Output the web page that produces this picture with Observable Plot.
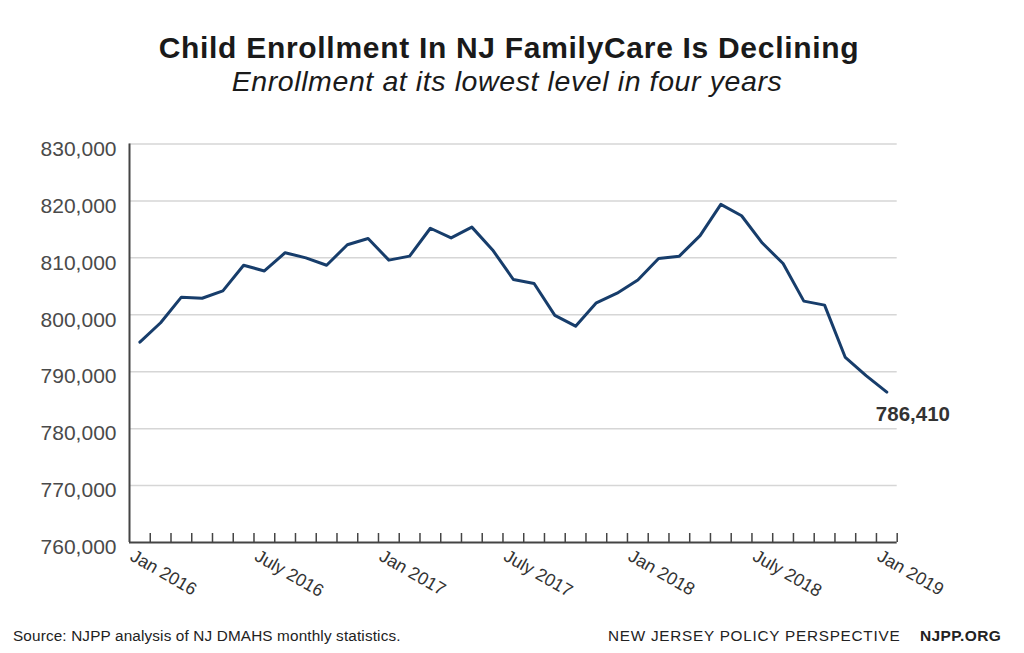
<!DOCTYPE html>
<html>
<head>
<meta charset="utf-8">
<script src="https://cdn.jsdelivr.net/npm/d3@7"></script>
<script src="https://cdn.jsdelivr.net/npm/@observablehq/plot@0.6"></script>
<style>
  html, body { margin: 0; padding: 0; background: #fff; }
  #page { position: relative; width: 1024px; height: 653px; overflow: hidden; background: #fff; font-family: "Liberation Sans", Arial, sans-serif; }
  .t { position: absolute; white-space: nowrap; }
  #title { top: 32.5px; left: -3px; width: 1024px; text-align: center; font-weight: bold; font-size: 30px; line-height: 30px; letter-spacing: 0.7px; color: #1a1a1a; }
  #subtitle { top: 67px; left: -5px; width: 1024px; text-align: center; font-style: italic; font-size: 28.5px; line-height: 28px; letter-spacing: 0.6px; color: #1a1a1a; }
  #chart { position: absolute; top: 110px; left: 0; }
  #source { top: 628px; left: 13px; font-size: 15.3px; line-height: 15px; letter-spacing: 0.15px; color: #222; }
  #org { top: 628px; left: 608px; font-size: 15.3px; line-height: 15px; letter-spacing: 0.75px; color: #222; }
  #url { top: 628px; left: 920px; font-size: 15.5px; line-height: 15px; font-weight: bold; letter-spacing: 0.4px; color: #222; }
</style>
</head>
<body>
<div id="page">
  <div class="t" id="title">Child Enrollment In NJ FamilyCare Is Declining</div>
  <div class="t" id="subtitle">Enrollment at its lowest level in four years</div>
  <div id="chart"></div>
  <div class="t" id="source">Source: NJPP analysis of NJ DMAHS monthly statistics.</div>
  <div class="t" id="org">NEW JERSEY POLICY PERSPECTIVE</div>
  <div class="t" id="url">NJPP.ORG</div>
</div>
<script>
// Monthly categories (Jan 2016 – Jan 2019)
const months = [
  "2016-01","2016-02","2016-03","2016-04","2016-05","2016-06","2016-07","2016-08","2016-09","2016-10","2016-11","2016-12",
  "2017-01","2017-02","2017-03","2017-04","2017-05","2017-06","2017-07","2017-08","2017-09","2017-10","2017-11","2017-12",
  "2018-01","2018-02","2018-03","2018-04","2018-05","2018-06","2018-07","2018-08","2018-09","2018-10","2018-11","2018-12",
  "2019-01"
];
// Child enrollment in NJ FamilyCare
const enrollment = [
  795200, 798600, 803100, 802900, 804200, 808700, 807700, 810900, 810000, 808700, 812300, 813400,
  809600, 810300, 815200, 813500, 815400, 811400, 806200, 805500, 799900, 798000, 802100, 803800,
  806100, 809900, 810300, 813900, 819400, 817400, 812600, 809000, 802400, 801700, 792500, 789300,
  786410
];
// Axis ticks
const yTicks = [760000, 770000, 780000, 790000, 800000, 810000, 820000, 830000];
const labelMonths = ["2016-01", "2016-07", "2017-01", "2017-07", "2018-01", "2018-07", "2019-01"];
const labelTexts = ["Jan 2016", "July 2016", "Jan 2017", "July 2017", "Jan 2018", "July 2018", "Jan 2019"];

const data = months.map((m, i) => ({i, month: m, value: enrollment[i]}));
const tickPositions = months.map((m, i) => i + 0.5);       // tick marks between months
const labelIndex = labelMonths.map(m => months.indexOf(m));
const fmt = d3.format(",");

const chart = Plot.plot({
  width: 1024,
  height: 500,
  marginTop: 33.5,
  marginBottom: 68,
  marginLeft: 129,
  marginRight: 127.3,
  style: {fontFamily: "'Liberation Sans', Arial, sans-serif", background: "transparent", overflow: "visible"},
  x: {type: "linear", domain: [-0.5, months.length - 0.5]},
  y: {domain: [yTicks[0], yTicks[yTicks.length - 1]]},
  marks: [
    Plot.ruleY(yTicks.slice(1), {stroke: "#d6d6d6", strokeWidth: 1.5}),
    Plot.axisY({ticks: yTicks, tickSize: 0, tickPadding: 13, tickFormat: fmt, fontSize: 21, fill: "#4a4a4a", dy: 5, label: null}),
    Plot.axisX({ticks: tickPositions, tickSize: -9, tickFormat: () => "", stroke: "#444", strokeWidth: 1.5, label: null}),
    Plot.axisX({ticks: labelIndex, tickSize: 0, tickPadding: 12, tickRotate: 30,
      tickFormat: i => labelTexts[labelIndex.indexOf(i)], fontSize: 17.8, fill: "#333", dx: -8, label: null}),
    Plot.ruleY([yTicks[0]], {stroke: "#444", strokeWidth: 2}),
    Plot.ruleX([-0.5], {stroke: "#444", strokeWidth: 2}),
    Plot.line(data, {x: "i", y: "value", stroke: "#173d6b", strokeWidth: 3}),
    Plot.text(data.slice(-1), {x: "i", y: "value", text: d => fmt(d.value), textAnchor: "start",
      dx: -11, dy: 22, fontSize: 20.5, fontWeight: "bold", fill: "#333"})
  ]
});
document.getElementById("chart").appendChild(chart);
</script>
</body>
</html>
